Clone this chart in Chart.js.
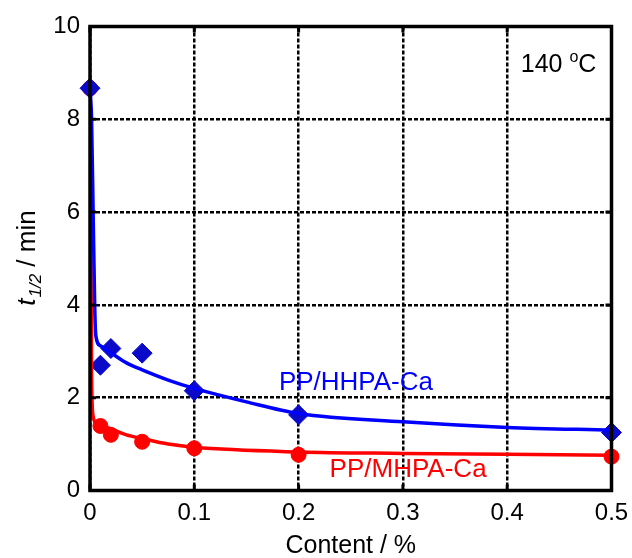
<!DOCTYPE html>
<html>
<head>
<meta charset="utf-8">
<script src="https://cdn.jsdelivr.net/npm/chart.js@4/dist/chart.umd.min.js"></script>
<style>
  html, body { margin: 0; padding: 0; background: #fff; }
  #wrap { width: 632px; height: 558px; }
</style>
</head>
<body>
<div id="wrap"><canvas id="myChart" width="632" height="558"></canvas></div>
<script>
// measured points
const contentX = [0, 0.01, 0.02, 0.05, 0.1, 0.2, 0.5];
const hhpaY = [8.67, 2.7, 3.06, 2.96, 2.15, 1.63, 1.25];
const mhpaY = [8.67, 1.39, 1.2, 1.05, 0.91, 0.77, 0.73];

// fitted curves
const hhpaFitX = [0, 0.0015, 0.003, 0.0045, 0.0055, 0.01, 0.02, 0.035, 0.05, 0.075, 0.1, 0.15, 0.2, 0.3, 0.4, 0.5];
const hhpaFitY = [8.67, 8.0, 6.0, 4.0, 3.35, 3.12, 2.97, 2.75, 2.6, 2.38, 2.2, 1.91, 1.66, 1.48, 1.36, 1.30];
const mhpaFitX = [0, 0.001, 0.0015, 0.003, 0.006, 0.01, 0.02, 0.035, 0.05, 0.075, 0.1, 0.2, 0.3, 0.4, 0.5];
const mhpaFitY = [8.67, 5.0, 2.5, 1.6, 1.45, 1.4, 1.33, 1.2, 1.12, 1.0, 0.93, 0.83, 0.8, 0.78, 0.76];

const xTicks = [0, 0.1, 0.2, 0.3, 0.4, 0.5];
const yTicks = [0, 2, 4, 6, 8, 10];

const toXY = (xs, ys) => xs.map((x, i) => ({ x: x, y: ys[i] }));

const BLUE = "#0000ff";
const BLUE_MK = "#0a0ac8";
const RED = "#ff0000";
const FONT = "'Liberation Sans', Arial, sans-serif";

const frame = {
  id: "frame",
  afterDraw(chart) {
    const c = chart.ctx;
    const a = chart.chartArea;
    const xs = chart.scales.x, ys = chart.scales.y;
    c.save();
    c.strokeStyle = "#000";
    c.lineWidth = 3;
    // inward ticks
    xTicks.forEach((v) => {
      const px = xs.getPixelForValue(v);
      c.beginPath();
      c.moveTo(px, a.bottom); c.lineTo(px, a.bottom - 6);
      c.moveTo(px, a.top); c.lineTo(px, a.top + 6);
      c.stroke();
    });
    yTicks.forEach((v) => {
      const py = ys.getPixelForValue(v);
      c.beginPath();
      c.moveTo(a.left, py); c.lineTo(a.left + 6, py);
      c.moveTo(a.right, py); c.lineTo(a.right - 6, py);
      c.stroke();
    });
    c.lineWidth = 3.5;
    c.strokeRect(a.left, a.top, a.right - a.left, a.bottom - a.top);

    // y title t1/2 / min
    c.translate(28, (a.top + a.bottom) / 2);
    c.rotate(-Math.PI / 2);
    c.fillStyle = "#000";
    c.textBaseline = "middle";
    const p1 = "italic 26px " + FONT, p2 = "italic 17px " + FONT, p3 = "26px " + FONT;
    c.font = p1; const w1 = c.measureText("t").width;
    c.font = p2; const w2 = c.measureText("1/2").width;
    c.font = p3; const w3 = c.measureText(" / min").width;
    let x0 = -(w1 + w2 + w3) / 2;
    c.font = p1; c.fillText("t", x0, 0); x0 += w1 + 1;
    c.font = p2; c.fillText("1/2", x0, 8); x0 += w2;
    c.font = p3; c.fillText(" / min", x0, 0);
    c.restore();

    // labels
    c.save();
    c.textBaseline = "middle";
    c.textAlign = "center";
    c.font = "26px " + FONT;
    c.fillStyle = BLUE;
    c.fillText("PP/HHPA-Ca", xs.getPixelForValue(0.255), ys.getPixelForValue(2.33));
    c.fillStyle = RED;
    c.fillText("PP/MHPA-Ca", xs.getPixelForValue(0.305), ys.getPixelForValue(0.45));
    c.fillStyle = "#000";
    c.textAlign = "left";
    c.font = "25px " + FONT;
    const tx = xs.getPixelForValue(0.413), ty = ys.getPixelForValue(9.17);
    c.fillText("140 ", tx, ty);
    const wa = c.measureText("140 ").width;
    c.font = "16px " + FONT;
    c.fillText("o", tx + wa, ty - 7);
    const wb = c.measureText("o").width;
    c.font = "25px " + FONT;
    c.fillText("C", tx + wa + wb, ty);
    c.restore();
  },
};

new Chart(document.getElementById("myChart").getContext("2d"), {
  type: "scatter",
  data: {
    datasets: [
      {
        data: toXY(hhpaFitX, hhpaFitY),
        showLine: true,
        borderColor: BLUE,
        borderWidth: 3.5,
        pointRadius: 0,
        cubicInterpolationMode: "monotone",
      },
      {
        data: toXY(mhpaFitX, mhpaFitY),
        showLine: true,
        borderColor: RED,
        borderWidth: 3.5,
        pointRadius: 0,
        cubicInterpolationMode: "monotone",
      },
      {
        label: "PP/HHPA-Ca",
        data: toXY(contentX, hhpaY),
        pointStyle: "rectRot",
        pointRadius: 10,
        backgroundColor: BLUE_MK,
        borderColor: BLUE_MK,
        borderWidth: 1,
        clip: false,
      },
      {
        label: "PP/MHPA-Ca",
        data: toXY(contentX, mhpaY),
        pointStyle: "circle",
        pointRadius: 7.5,
        backgroundColor: RED,
        borderColor: RED,
        borderWidth: 1,
        clip: false,
      },
    ],
  },
  options: {
    responsive: false,
    animation: false,
    layout: { padding: { top: 26.5, right: 20.5, left: 0, bottom: 0 } },
    plugins: { legend: { display: false }, tooltip: { enabled: false } },
    scales: {
      x: {
        type: "linear",
        min: 0,
        max: 0.5,
        afterBuildTicks: (s) => { s.ticks = xTicks.map((v) => ({ value: v })); },
        afterFit: (s) => { s.height = 67.5; s.paddingLeft = 0; s.paddingRight = 0; },
        grid: { color: "#000", lineWidth: 2.5, drawTicks: false },
        border: { display: false, dash: [4, 2] },
        ticks: {
          color: "#000",
          padding: 8,
          maxRotation: 0,
          font: { family: FONT, size: 24 },
          callback: (v) => String(v),
        },
        title: {
          display: true,
          text: "Content / %",
          color: "#000",
          font: { family: FONT, size: 25 },
          padding: { top: 0, bottom: -3 },
        },
      },
      y: {
        type: "linear",
        min: 0,
        max: 10,
        afterBuildTicks: (s) => { s.ticks = yTicks.map((v) => ({ value: v })); },
        afterFit: (s) => { s.width = 90; s.paddingTop = 0; s.paddingBottom = 0; },
        grid: { color: "#000", lineWidth: 2.5, drawTicks: false },
        border: { display: false, dash: [4, 2] },
        ticks: {
          color: "#000",
          padding: 10,
          font: { family: FONT, size: 24 },
        },
      },
    },
  },
  plugins: [frame],
});
</script>
</body>
</html>
